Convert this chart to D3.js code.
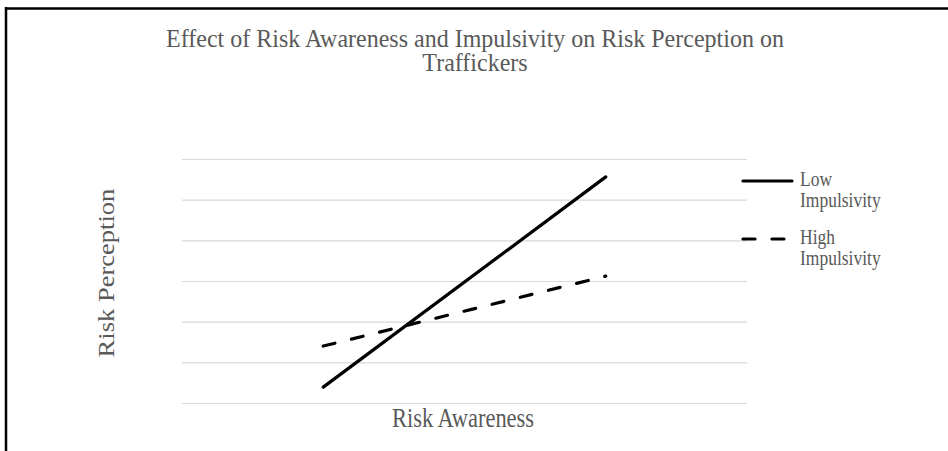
<!DOCTYPE html>
<html>
<head>
<meta charset="utf-8">
<script src="https://cdn.jsdelivr.net/npm/d3@7"></script>
<style>
  html, body { margin: 0; padding: 0; background: #fff; }
  #chart { width: 948px; height: 451px; }
  text { font-family: "Liberation Serif", "DejaVu Serif", serif; fill: #595959; }
</style>
</head>
<body>
<div id="chart"></div>
<script>
//Datos
const awarenessLevels = ['Low', 'High'];
const lowImpulsivity = [0.39, 5.56];
const highImpulsivity = [1.40, 3.12];
const gridTicks = [0, 1, 2, 3, 4, 5, 6];
const seriesNames = ['Low Impulsivity', 'High Impulsivity'];

//Colores fijos
const COLOR_TEXT = '#595959',
    COLOR_GRID = '#d9d9d9',
    COLOR_LINE = '#000000';

//La imagen original está algo estirada en vertical
const STRETCH = 1.18;

let W = 948, H = 451;
let margin = {top: 159, right: 201, bottom: 48, left: 182},
    width = W - margin.left - margin.right,
    height = H - margin.top - margin.bottom;

let svg = d3.select('#chart')
    .append('svg')
      .attr('width', W)
      .attr('height', H);

//Texto con estiramiento vertical
function addText(parent, x, y, lines, size, lineHeight, anchor, rotate, stretch) {
    let s = stretch || STRETCH;
    let t = parent.append('text')
        .attr('transform', 'translate(' + x + ',' + y + ') scale(1,' + s + ')' + (rotate ? ' rotate(' + rotate + ')' : ''))
        .attr('text-anchor', anchor)
        .style('font-size', size + 'px');
    lines.forEach(function(l, i) {
        t.append('tspan').attr('x', 0).attr('dy', i ? lineHeight : 0).text(l);
    });
    return t;
}

//Marco (solo arriba e izquierda)
svg.append('line').attr('x1', 5).attr('x2', W).attr('y1', 8.5).attr('y2', 8.5)
    .attr('stroke', '#000').attr('stroke-width', 2.5);
svg.append('line').attr('x1', 6).attr('x2', 6).attr('y1', 7).attr('y2', H)
    .attr('stroke', '#000').attr('stroke-width', 2.5);

//Título
addText(svg, 475, 47, ['Effect of Risk Awareness and Impulsivity on Risk Perception on', 'Traffickers'], 24, 24, 'middle', 0, 1.02);

let chart = svg.append('g')
    .attr('transform', 'translate(' + margin.left + ',' + margin.top + ')');

//Eje X
let x = d3.scalePoint()
    .domain(awarenessLevels)
    .range([0, width])
    .padding(0.5);

//Eje Y
let y = d3.scaleLinear()
    .domain([0, 6])
    .range([height, 0]);

//Rejilla
chart.append('g')
    .attr('class', 'grid')
    .call(d3.axisLeft(y).tickValues(gridTicks).tickSize(-width).tickFormat(''))
    .call(g => g.select('.domain').remove())
    .call(g => g.selectAll('.tick line').attr('stroke', COLOR_GRID).attr('stroke-width', 1.2));

//Líneas
let line = d3.line()
    .x((d, i) => x(awarenessLevels[i]))
    .y(d => y(d));

chart.append('path')
    .datum(lowImpulsivity)
    .attr('d', line)
    .attr('fill', 'none')
    .attr('stroke', COLOR_LINE)
    .attr('stroke-width', 3.2)
    .attr('stroke-linecap', 'round');

chart.append('path')
    .datum(highImpulsivity)
    .attr('d', line)
    .attr('fill', 'none')
    .attr('stroke', COLOR_LINE)
    .attr('stroke-width', 3.2)
    .attr('stroke-linecap', 'round')
    .attr('stroke-dasharray', '12,17');

//Títulos de ejes
addText(svg, 114, 273, ['Risk Perception'], 22.5, 0, 'middle', -90);
addText(svg, 463, 427, ['Risk Awareness'], 22.5, 0, 'middle');

//Leyenda
let legend = svg.append('g').attr('transform', 'translate(742,181)');
seriesNames.forEach(function(name, i) {
    let g = legend.append('g').attr('transform', 'translate(0,' + (i * 58) + ')');
    g.append('line')
        .attr('x1', 1).attr('x2', 50)
        .attr('stroke', COLOR_LINE)
        .attr('stroke-width', 3.2)
        .attr('stroke-linecap', 'round')
        .attr('stroke-dasharray', i === 1 ? '12,17' : null);
    addText(g, 58, 5, name.split(' '), 17.5, 17.5, 'start');
});
</script>
</body>
</html>
